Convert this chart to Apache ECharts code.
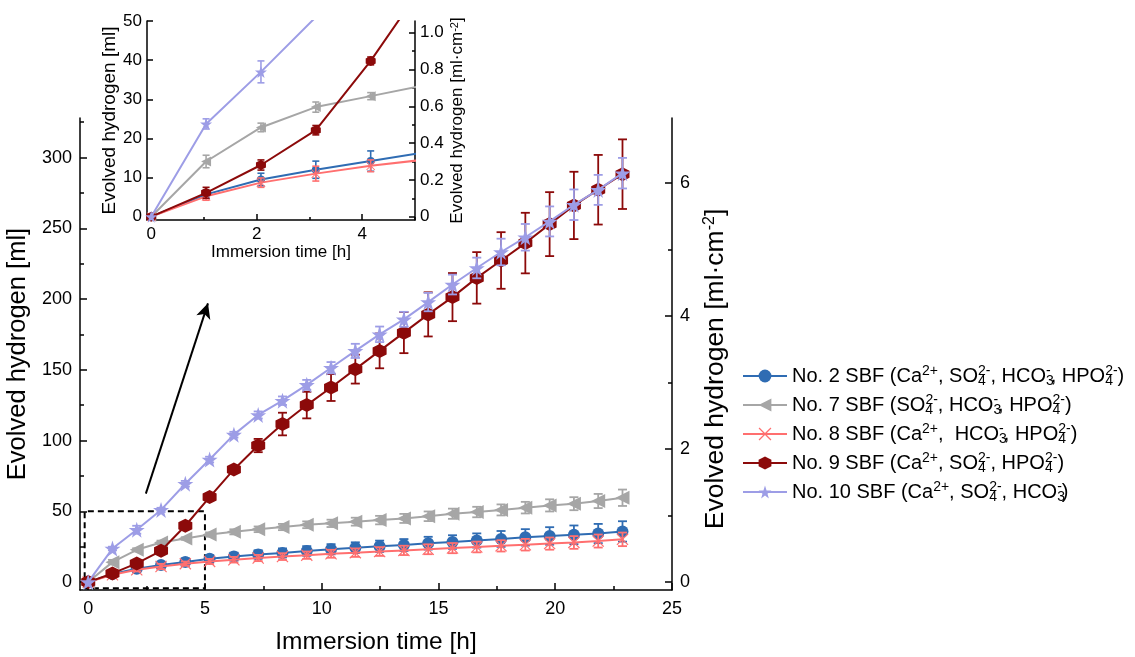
<!DOCTYPE html>
<html><head><meta charset="utf-8">
<script src="https://cdn.jsdelivr.net/npm/echarts@6/dist/echarts.min.js"></script>
<style>html,body{margin:0;padding:0;background:#fff}#c{width:1135px;height:657px}</style>
</head><body><div id="c"></div><script>
// ---------- data ----------
const hours = [0, 1.04, 2.08, 3.12, 4.16, 5.2, 6.24, 7.28, 8.32, 9.36, 10.4, 11.44, 12.48, 13.52, 14.56, 15.6, 16.64, 17.68, 18.72, 19.76, 20.8, 21.84, 22.88];
const no2  = [0, 5.7, 9.5, 12, 14.2, 16.5, 18, 19.5, 20.6, 22, 23.2, 24.3, 25.3, 26.2, 27.5, 28.3, 29.4, 30.5, 31.6, 32.6, 33.4, 34.3, 35.8];
const no2Err = [0, 1, 1.6, 2.2, 2.6, 2.5, 2.8, 3, 3.2, 3.4, 3.6, 3.8, 4, 4.2, 4.5, 4.8, 5, 5.6, 5.8, 6.2, 6.6, 6.8, 7.2];
const no7  = [0, 14.1, 22.8, 28, 30.8, 33.6, 35.5, 37.3, 38.9, 40.5, 41.5, 42.7, 43.8, 45, 46.5, 48.3, 49.5, 51, 52.6, 54.2, 55.4, 57.3, 59.6];
const no7Err = [0, 1.6, 1.1, 1.3, 0.9, 1.5, 1.8, 2, 2.2, 2.4, 2.6, 2.8, 3, 3.2, 3.4, 3.6, 3.7, 3.9, 4.1, 4.3, 4.6, 5, 5.8];
const no8  = [0, 5.2, 8.7, 11, 13, 14.6, 15.8, 17, 18, 19, 20, 20.8, 21.6, 22.4, 23.2, 24, 24.8, 25.6, 26.4, 27.2, 28, 29, 30.2];
const no8Err = [0, 1, 1.2, 1.9, 1.5, 1.8, 2, 2.2, 2.4, 2.6, 2.8, 3, 3.1, 3.3, 3.5, 3.6, 3.8, 4, 4.1, 4.3, 4.5, 4.6, 4.8];
const no9  = [0, 6.1, 13.2, 22.1, 39.8, 60.1, 79.6, 96.5, 111.7, 125.1, 137.5, 150.5, 163.4, 176.3, 189.2, 201.4, 215, 227.3, 239.6, 253, 266.2, 277.3, 288.3];
const no9Err = [0, 1.4, 1.3, 1.2, 1.0, 2, 2.5, 4.7, 8, 9.4, 9.5, 10.2, 12.3, 14.5, 15.6, 17, 18.2, 20, 21.4, 22.6, 23.8, 24.6, 24.6];
const no10 = [0, 23.7, 37, 51, 69.5, 86.6, 104.2, 118.1, 128.2, 139.4, 151.5, 163.4, 175.1, 185.7, 197.9, 210.3, 222, 233.3, 243.7, 254.9, 266.7, 277.2, 289];
const no10Err = [0, 1.3, 2.8, 1.5, 2, 2, 2, 2.5, 3, 3.5, 4, 5, 5.5, 5.3, 6.5, 7, 7.3, 9.4, 9.4, 10.6, 10.8, 10.6, 10.8];

const seriesNames = ['No. 2 SBF', 'No. 7 SBF', 'No. 8 SBF', 'No. 9 SBF', 'No. 10 SBF'];
const legendLabels = [
  'No. 2 SBF (Ca{sp|2+}, SO{sb|4}{sp|2-}, HCO{sb|3}{sp|-}, HPO{sb|4}{sp|2-})',
  'No. 7 SBF (SO{sb|4}{sp|2-}, HCO{sb|3}{sp|-}, HPO{sb|4}{sp|2-})',
  'No. 8 SBF (Ca{sp|2+},  HCO{sb|3}{sp|-}, HPO{sb|4}{sp|2-})',
  'No. 9 SBF (Ca{sp|2+}, SO{sb|4}{sp|2-}, HPO{sb|4}{sp|2-})',
  'No. 10 SBF (Ca{sp|2+}, SO{sb|4}{sp|2-}, HCO{sb|3}{sp|-})'
];

// tick labels
const xTicksMain = [0, 5, 10, 15, 20, 25];
const xMinorMain = [2.5, 7.5, 12.5, 17.5, 22.5];
const yTicksMain = [0, 50, 100, 150, 200, 250, 300];
const yMinorMain = [25, 75, 125, 175, 225, 275, 325];
const yTicksRight = [0, 2, 4, 6];
const yMinorRight = [1, 3, 5];
const xTicksInset = [0, 2, 4];
const xMinorInset = [1, 3, 5];
const yTicksInset = [0, 10, 20, 30, 40, 50];
const yTicksInsetRight = [0, 0.2, 0.4, 0.6, 0.8, 1.0];
const yMinorInsetRight = [0.1, 0.3, 0.5, 0.7, 0.9];

// annotation (data units)
const boxX = [-0.15, -0.15, 5, 5, -0.15];
const boxY = [-4.3, 50, 50, -4.3, -4.3];
const arrowFrom = [2.47, 62.5];
const arrowTo = [5.13, 197];

const AREA = 47; // ml per ml/cm^2
const mainMin = -5.6, mainMax = 328;
const insetMin = -0.85, insetMax = 50;

// ---------- styles ----------
const FONT = "'Liberation Sans', Arial, sans-serif";
const colors = ['#2f6cb3', '#a6a6a6', '#ff6f6f', '#8c0a0a', '#9d9de6'];
const symbols = [
  'circle',
  'path://M0,5L10,0L10,10Z',
  'path://M0,0.7L0.7,0L5,4.3L9.3,0L10,0.7L5.7,5L10,9.3L9.3,10L5,5.7L0.7,10L0,9.3L4.3,5Z',
  'path://M5,0L9.33,2.5L9.33,7.5L5,10L0.67,7.5L0.67,2.5Z',
  'path://M50,0L61.8,35.1L98.5,35.1L68.8,56.8L79.4,90.5L50,70L20.6,90.5L31.2,56.8L1.5,35.1L38.2,35.1Z'
];
const mainSizes = [12, 14, 12, 14, 16];
const insetSizes = [8, 10, 9, 10, 12];
const values = [no2, no7, no8, no9, no10];
const errs = [no2Err, no7Err, no8Err, no9Err, no10Err];

const black = '#000';
const axLine = {show: true, onZero: false, lineStyle: {color: black, width: 1.5}};
const noSplit = {show: false};
const SCRIPT = 14;
const rich = {
  n: {fontSize: 20, fontFamily: FONT, color: black, lineHeight: 24},
  sp: {fontSize: SCRIPT, fontFamily: FONT, color: black, lineHeight: 15, verticalAlign: 'top'},
  sb: {fontSize: SCRIPT, fontFamily: FONT, color: black, lineHeight: 15, verticalAlign: 'bottom'},
  sp0: {fontSize: SCRIPT, fontFamily: FONT, color: black, lineHeight: 15, verticalAlign: 'top', width: 0.01},
  sb0: {fontSize: SCRIPT, fontFamily: FONT, color: black, lineHeight: 15, verticalAlign: 'bottom', width: 0.01}
};
// build rich markup; a subscript followed by a superscript is stacked (narrower one gets zero advance)
function legendMarkup(s) {
  const re = /\{(sp|sb)\|([^}]*)\}/g;
  const toks = [];
  let last = 0, m;
  while ((m = re.exec(s)) !== null) {
    if (m.index > last) toks.push(['n', s.slice(last, m.index)]);
    toks.push([m[1], m[2]]);
    last = re.lastIndex;
  }
  if (last < s.length) toks.push(['n', s.slice(last)]);
  let out = '';
  for (let i = 0; i < toks.length; i++) {
    const t = toks[i];
    if (t[0] === 'sb' && toks[i + 1] && toks[i + 1][0] === 'sp') {
      const p = toks[i + 1][1];
      out += p.length >= t[1].length ? '{sb0|' + t[1] + '}{sp|' + p + '}' : '{sp0|' + p + '}{sb|' + t[1] + '}';
      i++;
    } else {
      out += '{' + t[0] + '|' + t[1] + '}';
    }
  }
  return out;
}

function tick(vals, len) {
  return {show: true, inside: true, length: len, customValues: vals, lineStyle: {color: black, width: 1.5}};
}
function label(vals, size, margin, fmt) {
  const o = {show: true, customValues: vals, fontSize: size, fontFamily: FONT, color: black, margin: margin};
  if (fmt) o.formatter = fmt;
  return o;
}
function minorAxis(base, vals, len) {
  return Object.assign({}, base, {axisLine: {show: false, onZero: false}, axisTick: tick(vals, len), axisLabel: {show: false}, splitLine: noSplit, name: ''});
}

function errSeries(vals, er, color, xi, yi, capW, lw) {
  const data = hours.map((h, i) => [h, vals[i] - er[i], vals[i] + er[i], er[i]]);
  return {
    type: 'custom', xAxisIndex: xi, yAxisIndex: yi, silent: true, z: 3,
    data: data, encode: {x: 0, y: [1, 2]},
    renderItem: function (params, api) {
      if (api.value(3) <= 0) return null;
      const x = api.value(0);
      const lo = api.coord([x, api.value(1)]);
      const hi = api.coord([x, api.value(2)]);
      const mid = api.coord([x, (api.value(1) + api.value(2)) / 2]);
      const cs = params.coordSys;
      if (mid[0] < cs.x - 1 || mid[0] > cs.x + cs.width + 1 || mid[1] < cs.y || mid[1] > cs.y + cs.height) return null;
      const st = {stroke: color, lineWidth: lw};
      return {type: 'group', children: [
        {type: 'line', shape: {x1: lo[0], y1: lo[1], x2: hi[0], y2: hi[1]}, style: st},
        {type: 'line', shape: {x1: lo[0] - capW, y1: lo[1], x2: lo[0] + capW, y2: lo[1]}, style: st},
        {type: 'line', shape: {x1: hi[0] - capW, y1: hi[1], x2: hi[0] + capW, y2: hi[1]}, style: st}
      ]};
    }
  };
}

// ---------- axes ----------
const xMain = {gridIndex: 0, type: 'value', position: 'bottom', min: -0.35, max: 25, axisLine: axLine,
  axisTick: tick(xTicksMain, 7), axisLabel: label(xTicksMain, 18, 10), splitLine: noSplit,
  name: 'Immersion time [h]', nameLocation: 'middle', nameGap: 40,
  nameTextStyle: {fontSize: 24.5, fontFamily: FONT, color: black}};
const yMain = {gridIndex: 0, type: 'value', position: 'left', min: mainMin, max: mainMax, axisLine: axLine,
  axisTick: tick(yTicksMain, 7), axisLabel: label(yTicksMain, 18, 8), splitLine: noSplit,
  name: 'Evolved hydrogen [ml]', nameLocation: 'middle', nameGap: 45, nameRotate: 90,
  nameTextStyle: {fontSize: 25.5, fontFamily: FONT, color: black}};
const yRight = {gridIndex: 0, type: 'value', position: 'right', min: mainMin / AREA, max: mainMax / AREA, axisLine: axLine,
  axisTick: tick(yTicksRight, 7), axisLabel: label(yTicksRight, 18, 8), splitLine: noSplit,
  name: 'Evolved hydrogen [ml·cm{sp2|-2}]', nameLocation: 'middle', nameGap: 30, nameRotate: 90,
  nameTextStyle: {fontSize: 26.5, fontFamily: FONT, color: black, padding: [0, 30, 0, 0],
    rich: {sp2: {fontSize: 16, fontFamily: FONT, color: black, verticalAlign: 'top', lineHeight: 17}}}};
const xIn = {gridIndex: 1, type: 'value', position: 'bottom', min: -0.08, max: 5, axisLine: axLine,
  axisTick: tick(xTicksInset, 6), axisLabel: label(xTicksInset, 17, 6), splitLine: noSplit,
  name: 'Immersion time [h]', nameLocation: 'middle', nameGap: 22,
  nameTextStyle: {fontSize: 17, fontFamily: FONT, color: black}};
const yIn = {gridIndex: 1, type: 'value', position: 'left', min: insetMin, max: insetMax, axisLine: axLine,
  axisTick: tick(yTicksInset, 6), axisLabel: label(yTicksInset, 17, 5), splitLine: noSplit,
  name: 'Evolved hydrogen [ml]', nameLocation: 'middle', nameGap: 26, nameRotate: 90,
  nameTextStyle: {fontSize: 19, fontFamily: FONT, color: black}};
const yInR = {gridIndex: 1, type: 'value', position: 'right', min: insetMin / AREA, max: insetMax / AREA, axisLine: axLine,
  axisTick: tick(yTicksInsetRight, 6), axisLabel: label(yTicksInsetRight, 17, 5, v => v === 0 ? '0' : v.toFixed(1)),
  splitLine: noSplit,
  name: 'Evolved hydrogen [ml·cm{sp2|-2}]', nameLocation: 'middle', nameGap: 34, nameRotate: 90,
  nameTextStyle: {fontSize: 17, fontFamily: FONT, color: black,
    rich: {sp2: {fontSize: 11, fontFamily: FONT, color: black, verticalAlign: 'top', lineHeight: 12}}}};

const xAxes = [xMain, minorAxis(xMain, xMinorMain, 4), xIn, minorAxis(xIn, xMinorInset, 3)];
const yAxes = [yMain, yRight, minorAxis(yMain, yMinorMain, 4), minorAxis(yRight, yMinorRight, 4), yIn, yInR, minorAxis(yInR, yMinorInsetRight, 3)];

// ---------- series ----------
const series = [];
// dashed zoom box + arrow
series.push({
  type: 'line', xAxisIndex: 0, yAxisIndex: 0, silent: true, symbol: 'none', z: 1,
  data: boxX.map((x, i) => [x, boxY[i]]),
  lineStyle: {color: black, width: 2, type: [6, 4]},
  markLine: {silent: true, symbol: ['none', 'arrow'], symbolSize: [11, 15], animation: false,
    lineStyle: {color: black, width: 2, type: 'solid'}, label: {show: false},
    data: [[{coord: arrowFrom}, {coord: arrowTo}]]}
});
for (let k = 0; k < 5; k++) {
  series.push({
    name: seriesNames[k], type: 'line', xAxisIndex: 0, yAxisIndex: 0, z: 4 + k,
    data: hours.map((h, i) => [h, values[k][i]]),
    symbol: symbols[k], symbolSize: mainSizes[k], showAllSymbol: true,
    itemStyle: {color: colors[k], opacity: 1}, lineStyle: {color: colors[k], width: 2}
  });
  series.push(Object.assign(errSeries(values[k], errs[k], colors[k], 0, 0, 4.5, 1.8), {z: 4 + k}));
}
for (let k = 0; k < 5; k++) {
  series.push({
    name: seriesNames[k], type: 'line', xAxisIndex: 2, yAxisIndex: 4, z: 4 + k, clip: true,
    data: hours.map((h, i) => [h, values[k][i]]),
    symbol: symbols[k], symbolSize: insetSizes[k], showAllSymbol: true,
    itemStyle: {color: colors[k], opacity: 1}, lineStyle: {color: colors[k], width: 2}
  });
  series.push(Object.assign(errSeries(values[k], errs[k], colors[k], 2, 4, 3.5, 1.6), {z: 4 + k}));
}

const chart = echarts.init(document.getElementById('c'), null, {renderer: 'canvas'});
chart.setOption({
  animation: false,
  backgroundColor: '#fff',
  grid: [
    {left: 80, top: 118, width: 592, height: 472, containLabel: false, outerBoundsMode: 'none'},
    {left: 147, top: 21, width: 268, height: 199, containLabel: false, outerBoundsMode: 'none'}
  ],
  xAxis: xAxes,
  yAxis: yAxes,
  legend: {
    orient: 'vertical', left: 737, top: 359, itemWidth: 44, itemHeight: 16, itemGap: 5,
    data: seriesNames, selectedMode: false,
    formatter: name => legendMarkup(legendLabels[seriesNames.indexOf(name)]),
    textStyle: {fontSize: 20, fontFamily: FONT, color: black, rich: rich}
  },
  series: series
});
</script></body></html>
